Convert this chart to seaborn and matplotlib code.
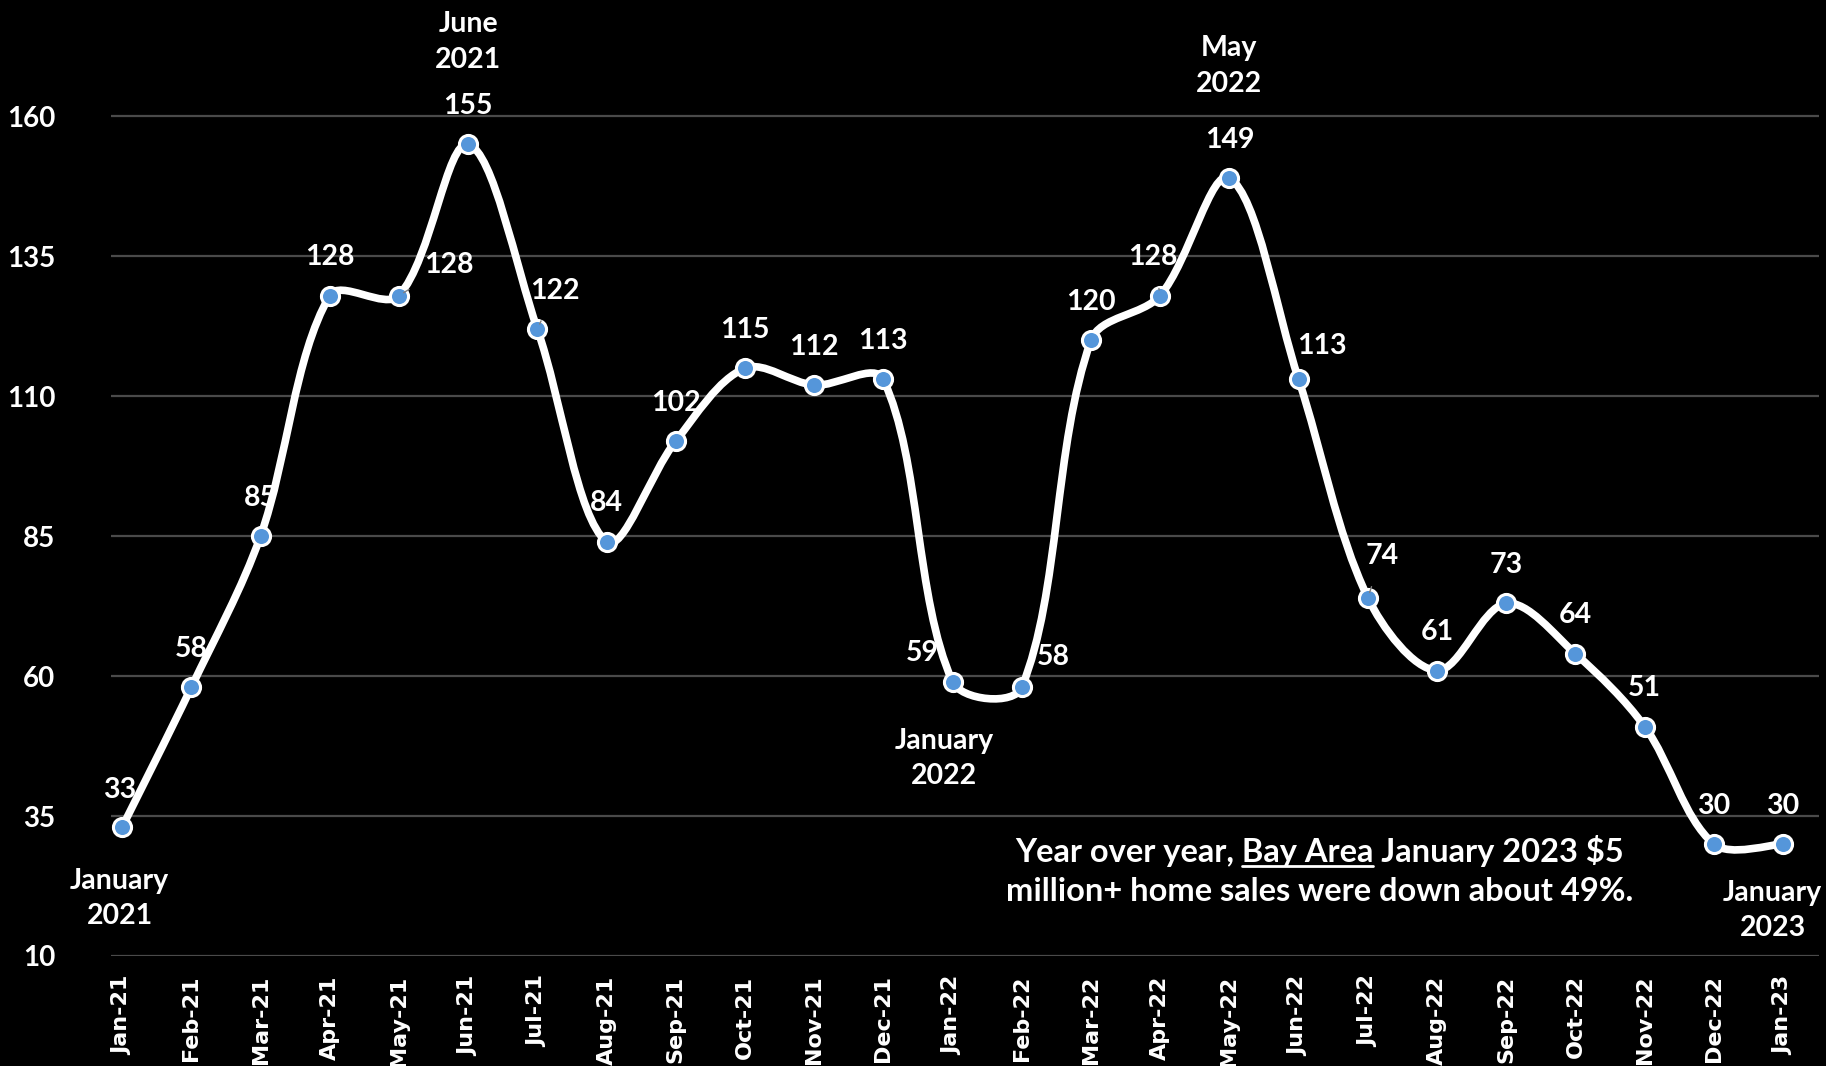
import numpy as np
import pandas as pd
import seaborn as sns
import matplotlib.pyplot as plt
from matplotlib.path import Path
from matplotlib.patches import PathPatch

months = ['Jan-21', 'Feb-21', 'Mar-21', 'Apr-21', 'May-21', 'Jun-21', 'Jul-21', 'Aug-21',
          'Sep-21', 'Oct-21', 'Nov-21', 'Dec-21', 'Jan-22', 'Feb-22', 'Mar-22', 'Apr-22',
          'May-22', 'Jun-22', 'Jul-22', 'Aug-22', 'Sep-22', 'Oct-22', 'Nov-22', 'Dec-22', 'Jan-23']
sales = [33, 58, 85, 128, 128, 155, 122, 84, 102, 115, 112, 113,
         59, 58, 120, 128, 149, 113, 74, 61, 73, 64, 51, 30, 30]
y_ticks = [10, 35, 60, 85, 110, 135, 160]

# callout text per month index
callouts = {0: 'January\n2021', 5: 'June\n2021', 12: 'January\n2022', 16: 'May\n2022', 24: 'January\n2023'}
note_line1 = 'Year over year, Bay Area January 2023 $5'
note_line2 = 'million+ home sales were down about 49%.'

# offsets of value labels (default above the marker)
K = 0.8384
lab_off = {0: (-2, 32), 4: (43, 26), 6: (15, 33), 12: (-26, 25), 13: (27, 26),
           15: (-6, 33), 17: (20, 29), 18: (12, 36)}
leaders = {4, 6, 15, 18}
call_off = {0: (-2, -61), 5: (0, 88), 12: (-7, -66), 16: (0, 96), 24: (-9, -57)}

df = pd.DataFrame({'idx': np.arange(len(months)), 'sales': sales})

sns.set_style('dark')
plt.rcParams['font.family'] = ['Lato', 'DejaVu Sans']

fig = plt.figure(figsize=(18.26, 10.66), dpi=100, facecolor='black')
ax = fig.add_axes([0.0608, 0.1032, 0.9354, 0.8968])
ax.set_facecolor('black')
ax.set_xlim(-0.16, 24.52)
ax.set_ylim(10, 180.8)

# smoothed line like excel: bezier through the points, tangents weighted by segment length
x = df['idx'].values.astype(float)
y = df['sales'].values.astype(float)
pts = np.column_stack([x, y])
sc = np.array([69.2, 5.597])  # px per unit, for segment lengths
n = len(pts)
d = np.hypot(*((np.diff(pts, axis=0) * sc).T))
tang = np.zeros_like(pts)
tang[1:-1] = pts[2:] - pts[:-2]
tang[0] = pts[1] - pts[0]
tang[-1] = pts[-1] - pts[-2]
verts = [pts[0]]
codes = [Path.MOVETO]
for i in range(n - 1):
    a = d[i] / (d[i - 1] + d[i]) / 3 if i > 0 else 1 / 6
    b = d[i] / (d[i] + d[i + 1]) / 3 if i + 1 < n - 1 else 1 / 6
    verts += [pts[i] + tang[i] * a, pts[i + 1] - tang[i + 1] * b, pts[i + 1]]
    codes += [Path.CURVE4] * 3
ax.add_patch(PathPatch(Path(verts, codes), facecolor='none', edgecolor='white', lw=5.5,
                       capstyle='round', zorder=3))

sns.scatterplot(data=df, x='idx', y='sales', ax=ax, s=170, color='#5596DA',
                edgecolor='white', linewidth=2.2, zorder=4)

for i, v in enumerate(sales):
    dx, dy = lab_off.get(i, (0, 33))
    kw = {}
    if i in leaders:
        kw['arrowprops'] = dict(arrowstyle='-', color='#808080', lw=1, shrinkA=11, shrinkB=4)
    ax.annotate(str(v), (i, v), xytext=(dx * K, dy * K), textcoords='offset points',
                ha='center', va='center', color='white', fontsize=20.5, fontweight='bold', zorder=5, **kw)

for i, txt in callouts.items():
    dx, dy = call_off[i]
    ax.annotate(txt, (i, sales[i]), xytext=(dx * K, dy * K), textcoords='offset points',
                ha='center', va='center', color='white', fontsize=20.5, fontweight='bold',
                linespacing=1.45, annotation_clip=False)

note_fs = 23.5
t1 = ax.text(17.30, 28.76, note_line1, ha='center', va='center', color='white', fontsize=note_fs, fontweight='bold')
ax.text(17.30, 21.6, note_line2, ha='center', va='center', color='white', fontsize=note_fs, fontweight='bold')

# month labels under the axis (rotated)
ax.set_xticks(range(len(months)))
ax.set_xticklabels([])
for i, m in enumerate(months):
    ax.annotate(m, (i, 0), xycoords=('data', 'axes fraction'), xytext=(0, -14),
                textcoords='offset points', rotation=90, ha='center', va='top',
                color='white', fontsize=16, fontweight='bold', family='DejaVu Sans',
                annotation_clip=False)

ax.set_yticks(y_ticks)
ax.set_yticklabels([str(t) for t in y_ticks], fontsize=20, fontweight='bold', color='white')
ax.tick_params(axis='x', length=0)
ax.tick_params(axis='y', length=0, pad=40)
ax.grid(axis='y', color='#4a4a4a', lw=1.6)
ax.grid(axis='x', visible=False)
ax.set_xlabel('')
ax.set_ylabel('')
for s in ax.spines.values():
    s.set_visible(False)

# underline "Bay Area"
fig.canvas.draw()
r = fig.canvas.get_renderer()
bb = t1.get_window_extent(r)
def w(s):
    tt = ax.text(0, 0, s, fontsize=note_fs, fontweight='bold')
    e = tt.get_window_extent(r).width
    tt.remove()
    return e
x_end = bb.x0 + w('Year over year, Bay Area')
x_start = x_end - w('Bay Area')
yu = bb.y0 + 1
inv = fig.transFigure.inverted()
(fx0, fy), (fx1, _) = inv.transform([(x_start, yu), (x_end, yu)])
fig.add_artist(plt.Line2D([fx0, fx1], [fy, fy], color='white', lw=2))

fig.savefig('out.png', dpi=100, facecolor='black')
